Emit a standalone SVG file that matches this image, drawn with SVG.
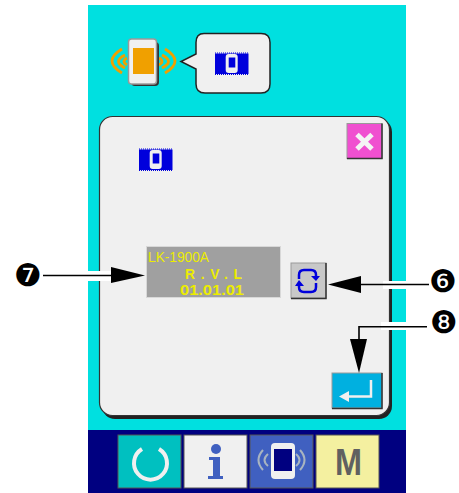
<svg xmlns="http://www.w3.org/2000/svg" width="459" height="493" viewBox="0 0 459 493">
<style>
.lcd{font-family:"Liberation Sans",Arial,sans-serif;fill:#ecec00}
.num{font-family:"DejaVu Sans",sans-serif;font-size:31px;fill:#000;text-anchor:middle}
.ln{fill:none;stroke:#000;stroke-width:1.600}
.halo{fill:#fff}
</style>
<defs>
<g id="chip">
<rect x="0" y="1" width="33.500" height="20.500" fill="#0000dc"/>
<path d="M0 0.500H33.500M0 22H33.500" stroke="#0000dc" stroke-dasharray="1 1" fill="none"/>
<rect x="10.700" y="1.500" width="12" height="19" rx="3" fill="#f0f0f0"/>
<rect x="13.700" y="5" width="6.600" height="10" fill="#0000dc"/>
</g>
</defs>
<rect width="459" height="493" fill="#fff"/>
<rect x="88" y="5" width="318" height="425" fill="#00e0e0"/>
<rect x="88" y="430" width="318" height="63" fill="#000080"/>
<g id="status-device">
<g fill="none" stroke="#f0a000" stroke-width="2.800">
<path d="M122 49Q102 61 122 73"/>
<path d="M125 55Q112 61.500 125 68"/>
<path d="M127 58Q121 61.500 127 65"/>
<path d="M165 49Q185 61 165 73"/>
<path d="M162 55Q175 61.500 162 68"/>
<path d="M159 58Q165 61.500 159 65"/>
</g>
<rect x="131" y="42" width="28" height="44" rx="4" fill="#333"/>
<rect x="128.500" y="39" width="28" height="45" rx="3" fill="#f0f0f0" stroke="#999" stroke-width="1.500"/>
<rect x="133" y="48" width="21" height="26" fill="#f0a000"/>
</g>
<g id="status-bubble">
<path d="M204 33.500H261Q270 33.500 270 42.500V84Q270 93 261 93H205Q196 93 196 84V69L181 61.500L196 54V42.500Q196 33.500 204 33.500Z" fill="#f0f0f0" stroke="#222" stroke-width="1.500"/>
<use href="#chip" x="215" y="52.500"/>
</g>
<g id="panel">
<rect x="102" y="119" width="290" height="300" rx="13" fill="#222"/>
<rect x="99.500" y="116.500" width="290" height="299" rx="13" fill="#f0f0f0" stroke="#333" stroke-width="1.200"/>
<use href="#chip" x="139" y="148.500"/>
</g>
<g id="close-button">
<rect x="347" y="123.500" width="35" height="35" fill="#f050d0" stroke="#999"/>
<path d="M347 158.500H382V123.500" fill="none" stroke="#333" stroke-width="1.500"/>
<path d="M357 134.500L372 149M372 134.500L357 149" stroke="#f4f4f4" stroke-width="5"/>
</g>
<g id="lcd-display">
<rect x="146.500" y="246.500" width="134" height="51" fill="#a0a0a0" stroke="#d8d8d8"/>
<text class="lcd" x="148" y="262" font-size="14" textLength="61" lengthAdjust="spacingAndGlyphs">LK-1900A</text>
<text class="lcd" x="185" y="279" font-size="13.800" font-weight="bold" textLength="57">R.V.L</text>
<text class="lcd" x="180" y="294.500" font-size="13.800" font-weight="bold" textLength="64" lengthAdjust="spacingAndGlyphs">01.01.01</text>
</g>
<g id="refresh-button">
<rect x="291" y="263" width="35" height="35" fill="#c8c8c8" stroke="#999"/>
<path d="M291 298.500H326V263" fill="none" stroke="#333" stroke-width="1.500"/>
<path d="M316 276V275Q316 270 311 270H304Q299 270 299 275V279M299 285V287Q299 292 304 292H311Q316 292 316 287V283" fill="none" stroke="#0000dc" stroke-width="2.500"/>
<path d="M311 276H320L316 281Z M295 286H304L299 280Z" fill="#0000dc"/>
</g>
<g id="enter-button">
<rect x="332" y="373" width="50" height="35" fill="#00b0e0" stroke="#999"/>
<path d="M332 408.500H382V373" fill="none" stroke="#333" stroke-width="1.500"/>
<path d="M371 380V396.500H344" fill="none" stroke="#f0f0f0" stroke-width="2.500"/>
<path d="M339 396.500L349 391V402Z" fill="#f0f0f0"/>
</g>
<g id="tab-reset">
<rect x="118" y="435" width="63" height="53" fill="#00c0c0" stroke="#555"/>
<path d="M142 449A16.500 16.500 0 1 0 159 449" fill="none" stroke="#f0f0f0" stroke-width="4"/>
</g>
<g id="tab-info">
<rect x="184" y="435" width="63" height="53" fill="#f0f0f0" stroke="#555"/>
<circle cx="216" cy="449" r="5" fill="#4060c0"/>
<path d="M209 457H220V476H223V479H208V476H213V460H209Z" fill="#4060c0"/>
</g>
<g id="tab-comm">
<rect x="250" y="435" width="63" height="53" fill="#4060c0" stroke="#555"/>
<g fill="none" stroke="#a8b4c0" stroke-width="2">
<path d="M263 450Q254 460 263 470"/>
<path d="M268 454Q261 460 268 466"/>
<path d="M300 450Q309 460 300 470"/>
<path d="M296 454Q303 460 296 466"/>
</g>
<rect x="271" y="443" width="24" height="36" rx="4" fill="#f0f0f0"/>
<rect x="274" y="449" width="18" height="22" fill="#000080"/>
</g>
<g id="tab-manual">
<rect x="316" y="435" width="63" height="53" fill="#f4f0a0" stroke="#555"/>
<text x="335" y="475" font-family="Liberation Sans,Arial,sans-serif" font-size="36" font-weight="bold" fill="#606060" textLength="27" lengthAdjust="spacingAndGlyphs">M</text>
</g>
<g id="connectors">
<rect class="halo" x="88" y="271" width="23" height="10"/>
<rect class="halo" x="383" y="281" width="23" height="8"/>
<rect class="halo" x="381" y="322" width="25" height="8"/>
<path class="ln" d="M43 275.500H112"/>
<path d="M111 267L145 275.500L111 283Z"/>
<path class="ln" d="M429 284.500H360"/>
<path d="M361 276L328 284.500L361 293Z"/>
<path class="ln" d="M427 326.800H359V340"/>
<path d="M350 339H367L359 373Z"/>
</g>
<g id="callouts">
<text class="num" x="28" y="286">❼</text>
<text class="num" x="443" y="292">❻</text>
<text class="num" x="444" y="333">❽</text>
</g>
</svg>
